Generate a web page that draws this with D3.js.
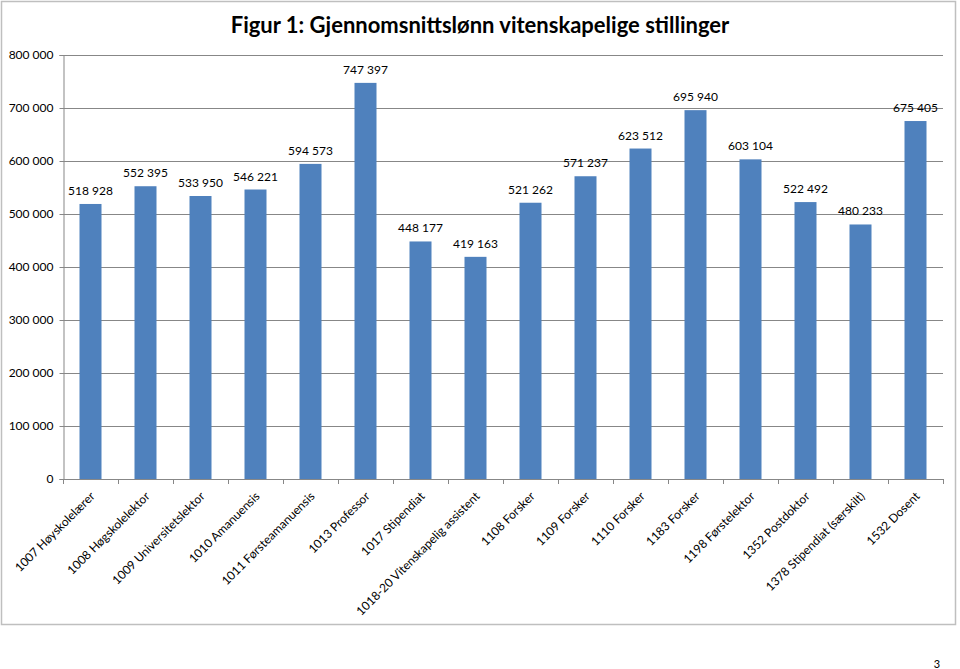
<!DOCTYPE html>
<html><head><meta charset="utf-8">
<script src="https://cdn.jsdelivr.net/npm/d3@7"></script>
<style>
html,body{margin:0;padding:0;background:#fff;}
svg{display:block;font-family:Lato,"Open Sans",sans-serif;}
</style></head>
<body>
<svg id="chart" width="960" height="669"></svg>
<script>
const categories = ["1007 Høyskolelærer","1008 Høgskolelektor","1009 Universitetslektor","1010 Amanuensis","1011 Førsteamanuensis","1013 Professor","1017 Stipendiat","1018-20 Vitenskapelig assistent","1108 Forsker","1109 Forsker","1110 Forsker","1183 Forsker","1198 Førstelektor","1352 Postdoktor","1378 Stipendiat (særskilt)","1532 Dosent"];
const values = [518928,552395,533950,546221,594573,747397,448177,419163,521262,571237,623512,695940,603104,522492,480233,675405];
const yTicks = [0,100000,200000,300000,400000,500000,600000,700000,800000];
const title = "Figur 1: Gjennomsnittslønn vitenskapelige stillinger";
const pageNumber = "3";

const svg = d3.select("#chart");
const loc = d3.formatLocale({decimal:",",thousands:"\u00a0",grouping:[3],currency:["",""]});
const fmt = v => loc.format(",d")(v).replace(/\u00a0/g," ");

const m = {left:63, right:943, top:55, bottom:479};
const x = d3.scaleBand().domain(categories).range([m.left,m.right]).paddingInner(0.6).paddingOuter(0.3);
const y = d3.scaleLinear().domain([0,800000]).range([m.bottom,m.top]);

// outer border
svg.append("rect").attr("x",1.5).attr("y",1.5).attr("width",954).attr("height",623)
  .attr("fill","#fff").attr("stroke","#bfbfbf").attr("stroke-width",1.5);

// title
svg.append("text").attr("x",480).attr("y",33).attr("text-anchor","middle")
  .attr("font-weight","bold").attr("font-size",22).attr("fill","#000").text(title);

// gridlines
svg.append("g").selectAll("line").data(yTicks.filter(d=>d>0)).join("line")
  .attr("x1",m.left).attr("x2",m.right).attr("y1",d=>Math.round(y(d))+0.5).attr("y2",d=>Math.round(y(d))+0.5)
  .attr("stroke","#878787").attr("stroke-width",1);

// y axis
const yAxis = d3.axisLeft(y).tickValues(yTicks).tickFormat(fmt).tickSize(4).tickPadding(6);
const gy = svg.append("g").attr("transform",`translate(${m.left+0.5},0)`).call(yAxis);
gy.select(".domain").attr("stroke","#878787");
gy.selectAll(".tick line").attr("stroke","#878787");
gy.selectAll("text").attr("font-size",12).attr("fill","#000").attr("font-family","Lato");

// bars
svg.append("g").selectAll("rect").data(values).join("rect")
  .attr("x",(d,i)=>x(categories[i])).attr("width",x.bandwidth())
  .attr("y",d=>y(d)).attr("height",d=>y(0)-y(d)).attr("fill","#4f81bd");

// value labels
svg.append("g").selectAll("text").data(values).join("text")
  .attr("x",(d,i)=>x(categories[i])+x.bandwidth()/2).attr("y",d=>y(d)-9)
  .attr("text-anchor","middle").attr("font-size",12).attr("fill","#000").text(d=>fmt(d));

// x axis with ticks between categories
const gx = svg.append("g");
gx.append("line").attr("x1",m.left).attr("x2",m.right).attr("y1",m.bottom+0.5).attr("y2",m.bottom+0.5).attr("stroke","#878787");
gx.selectAll("line.t").data(d3.range(categories.length+1)).join("line").attr("class","t")
  .attr("x1",i=>m.left+0.5+i*(m.right-m.left)/categories.length).attr("x2",i=>m.left+0.5+i*(m.right-m.left)/categories.length)
  .attr("y1",m.bottom).attr("y2",m.bottom+5).attr("stroke","#878787");
gx.selectAll("text").data(categories).join("text")
  .attr("transform",d=>`translate(${x(d)+x.bandwidth()/2+5},${m.bottom+18}) rotate(-45)`)
  .attr("text-anchor","end").attr("font-size",12).attr("fill","#000").text(d=>d);

// page number
svg.append("text").attr("x",937).attr("y",668).attr("text-anchor","middle").attr("font-size",11).attr("fill","#000").text(pageNumber);
</script>
</body></html>
